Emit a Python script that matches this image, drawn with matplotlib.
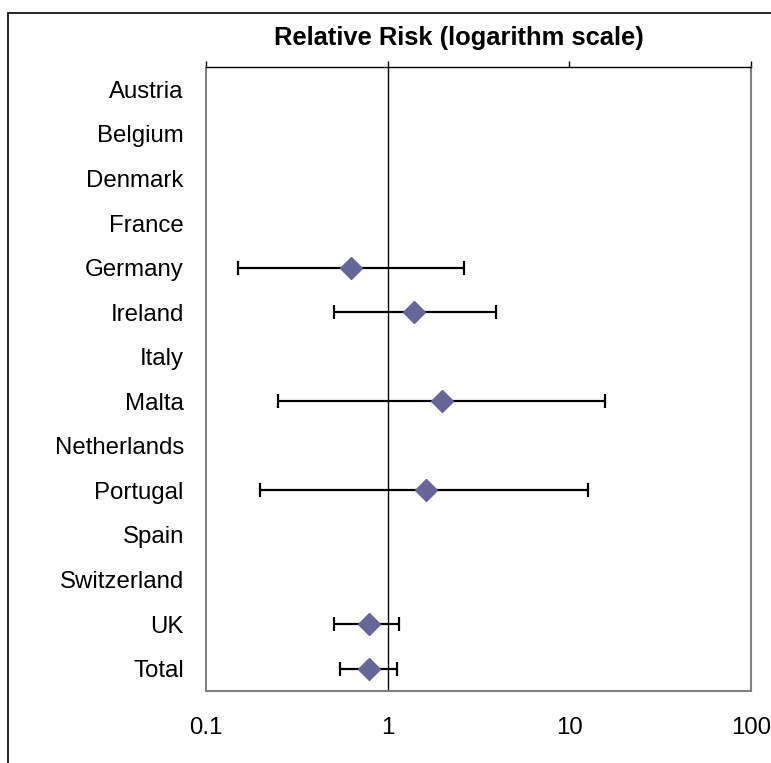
import numpy as np
import matplotlib
matplotlib.use("Agg")
import matplotlib.pyplot as plt
from matplotlib.patches import Rectangle
from matplotlib.ticker import FixedLocator, NullLocator, FixedFormatter

countries = ["Austria", "Belgium", "Denmark", "France", "Germany", "Ireland", "Italy",
             "Malta", "Netherlands", "Portugal", "Spain", "Switzerland", "UK", "Total"]
rr = [np.nan, np.nan, np.nan, np.nan, 0.63, 1.39, np.nan, 1.98, np.nan, 1.62, np.nan, np.nan, 0.79, 0.79]
lower = [np.nan, np.nan, np.nan, np.nan, 0.15, 0.505, np.nan, 0.25, np.nan, 0.198, np.nan, np.nan, 0.505, 0.545]
upper = [np.nan, np.nan, np.nan, np.nan, 2.62, 3.97, np.nan, 15.8, np.nan, 12.6, np.nan, np.nan, 1.16, 1.12]
xticks = [0.1, 1, 10, 100]
xtick_labels = ["0.1", "1", "10", "100"]
title = "Relative Risk (logarithm scale)"

plt.rcParams['font.family'] = ['Liberation Sans', 'DejaVu Sans']

W, H = 771, 763
fig = plt.figure(figsize=(W / 100, H / 100), dpi=100)
ax = fig.add_axes([206 / W, 1 - 691 / H, (751 - 206) / W, (691 - 67) / H])

y = np.arange(len(countries))
rr_a = np.array(rr)
lo = rr_a - np.array(lower)
hi = np.array(upper) - rr_a
ax.errorbar(rr_a, y, xerr=[lo, hi], fmt='none', ecolor='black', elinewidth=1.6,
            capsize=5.3, capthick=1.6, zorder=3)
ax.plot(rr_a, y, linestyle='none', marker='D', markersize=11,
        markerfacecolor='#666699', markeredgecolor='#666699', zorder=4)

ax.axvline(1, color='black', linewidth=1.0, zorder=2)

ax.set_xscale('log')
ax.set_xlim(0.1, 100)
ax.set_ylim(len(countries) - 0.5, -0.5)

ax.xaxis.set_major_locator(FixedLocator(xticks))
ax.xaxis.set_major_formatter(FixedFormatter(xtick_labels))
ax.xaxis.set_minor_locator(NullLocator())
ax.tick_params(axis='x', which='major', top=True, bottom=False, labeltop=False,
               labelbottom=True, direction='out', length=4, width=1, color='black',
               labelsize=17.3, pad=15)

ax.set_yticks(y)
ax.set_yticklabels(countries)
ax.tick_params(axis='y', length=0, labelsize=17.3, pad=16)

for side in ['left', 'right', 'bottom']:
    ax.spines[side].set_color('#808080')
    ax.spines[side].set_linewidth(1.5)
ax.spines['top'].set_color('black')
ax.spines['top'].set_linewidth(1.0)

fig.text(459 / W, 1 - 38 / H, title, ha='center', va='center', fontsize=18.4,
         fontweight='bold')

fig.patches.append(Rectangle((8 / W, -0.2), 1.5, 1 - 12.5 / H + 0.2, transform=fig.transFigure,
                             fill=False, edgecolor='black', linewidth=1.2, clip_on=False))

fig.savefig("out.png", dpi=100)
